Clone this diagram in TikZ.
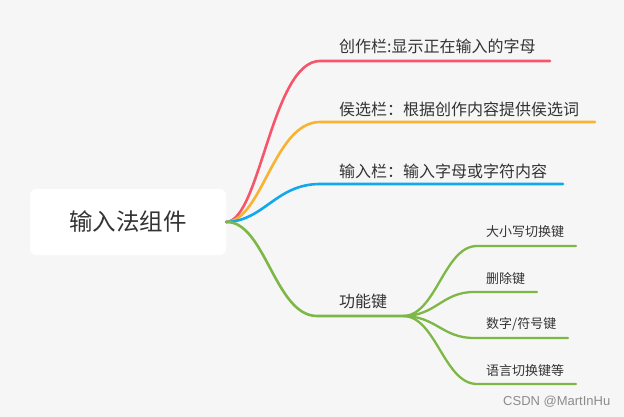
\documentclass[tikz,border=0pt]{standalone}
\usepackage{fontspec}
\setmainfont{Noto Sans CJK SC}
\newfontfamily\wmfont{Liberation Sans}
\definecolor{bg}{HTML}{F6F6F6}
\definecolor{cred}{HTML}{F5566C}
\definecolor{corange}{HTML}{F8B332}
\definecolor{cblue}{HTML}{10A9EE}
\definecolor{cgreen}{HTML}{7DB746}
\definecolor{txt}{HTML}{333333}
\tikzset{
  branch/.style={line width=2.6pt, line cap=round},
  subbranch/.style={line width=2.3pt, line cap=round},
  lbl/.style={anchor=west, inner sep=0pt, text=txt, font=\fontsize{16}{18}\selectfont},
  sublbl/.style={anchor=west, inner sep=0pt, text=txt, font=\fontsize{13}{15}\selectfont},
  rootbox/.style={fill=white, rounded corners=6pt, inner sep=0pt, text=txt, font=\fontsize{23.5}{26}\selectfont}
}
\begin{document}
\begin{tikzpicture}[x=1pt, y=-1pt]
\fill[bg] (0,0) rectangle (624,417);
\useasboundingbox (0,0) rectangle (624,417);
\node[rootbox, minimum width=196pt, minimum height=66pt] (root) at (128,222) {输入法组件};
% coordinates
\coordinate (r1) at (320,61);  \coordinate (r2) at (550,61);
\coordinate (o1) at (320,122); \coordinate (o2) at (595,122);
\coordinate (b1) at (320,184); \coordinate (b2) at (563,184);
\coordinate (g1) at (317,316); \coordinate (g2) at (403,316);
\coordinate (s1a) at (477,246); \coordinate (s1b) at (576,246);
\coordinate (s2a) at (474,292); \coordinate (s2b) at (537,292);
\coordinate (s3a) at (474,338); \coordinate (s3b) at (568,338);
\coordinate (s4a) at (477,384); \coordinate (s4b) at (576,384);
% main branches
\draw[branch, cred] (root.east) .. controls (260,221) and (272,61) .. (r1) -- (r2);
\draw[branch, corange] (root.east) .. controls (262,221) and (274,122) .. (o1) -- (o2);
\draw[branch, cblue] (root.east) .. controls (264,221) and (276,184) .. (b1) -- (b2);
\draw[branch, cgreen] (root.east) .. controls (265,221) and (275,316) .. (g1) -- (g2);
% sub branches
\draw[subbranch, cgreen] (g2) .. controls (436,316) and (444,246) .. (s1a) -- (s1b);
\draw[subbranch, cgreen] (g2) .. controls (436,316) and (442,292) .. (s2a) -- (s2b);
\draw[subbranch, cgreen] (g2) .. controls (436,316) and (442,338) .. (s3a) -- (s3b);
\draw[subbranch, cgreen] (g2) .. controls (436,316) and (444,384) .. (s4a) -- (s4b);
% labels
\node[lbl] (t1) at (339,46.5) {创作栏:显示正在输入的字母};
\node[lbl] (t2) at (339,109) {侯选栏：根据创作内容提供侯选词};
\node[lbl] (t3) at (339,171) {输入栏：输入字母或字符内容};
\node[lbl] (t4) at (339,301.5) {功能键};
\node[sublbl] (u1) at (486,231.5) {大小写切换键};
\node[sublbl] (u2) at (486,278.5) {删除键};
\node[sublbl] (u3) at (486,324) {数字/符号键};
\node[sublbl] (u4) at (486,371) {语言切换键等};
\node[anchor=west, inner sep=0pt, text=black!45, font=\wmfont\fontsize{13}{15}\selectfont] (wm) at (503,401.5) {CSDN @MartInHu};
\end{tikzpicture}
\end{document}
